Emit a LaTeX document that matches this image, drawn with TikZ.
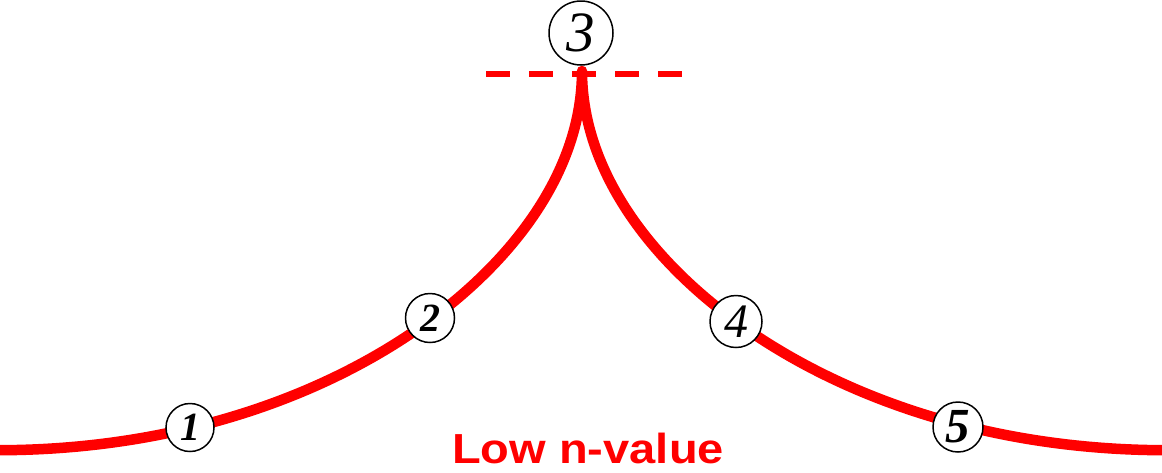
\documentclass[tikz,border=0pt]{standalone}
\usepackage{fontspec}
\setmainfont{Liberation Serif}
\newfontfamily\labelfont{Liberation Sans}
\begin{document}
\begin{tikzpicture}[x=1pt,y=-1pt,
  curve/.style={line width=10.5pt,red,line join=round},
  level/.style={line width=6pt,red,dash pattern=on 24pt off 19pt},
  pt/.style={circle,draw=black,line width=1.5pt,fill=white,inner sep=0pt},
  lbl/.style={text=red,font=\labelfont\bfseries\fontsize{42}{42}\selectfont}]
\useasboundingbox (0,0) rectangle (1162,472);
% profile
\draw[curve] plot[domain=24.13:0,samples=90,smooth]
   ({582-\x*\x},{71+20.9*\x-3.69*(\x*\x/100)*(\x*\x/100)})
   -- plot[domain=0:24.13,samples=90,smooth]
   ({582+\x*\x},{71+20.9*\x-3.69*(\x*\x/100)*(\x*\x/100)});
% dashed level line
\draw[level] (486,73.5) -- (682,73.5);
% numbered points
\node[pt,minimum size=48pt] (c1) at (190,427.5) {\fontsize{40}{40}\selectfont\bfseries\itshape 1};
\node[pt,minimum size=49pt] (c2) at (430,318) {\fontsize{40}{40}\selectfont\bfseries\itshape 2};
\node[pt,minimum size=64pt] (c3) at (581,33) {\fontsize{57}{57}\selectfont\itshape 3};
\node[pt,minimum size=52pt] (c4) at (736,321.5) {\fontsize{48}{48}\selectfont\itshape 4};
\node[pt,minimum size=50pt] (c5) at (958,427) {\fontsize{49}{49}\selectfont\bfseries\itshape 5};
\node[lbl,anchor=base] (lab) at (588,463) {\scalebox{1.12}[1]{Low n-value}};
\end{tikzpicture}
\end{document}
